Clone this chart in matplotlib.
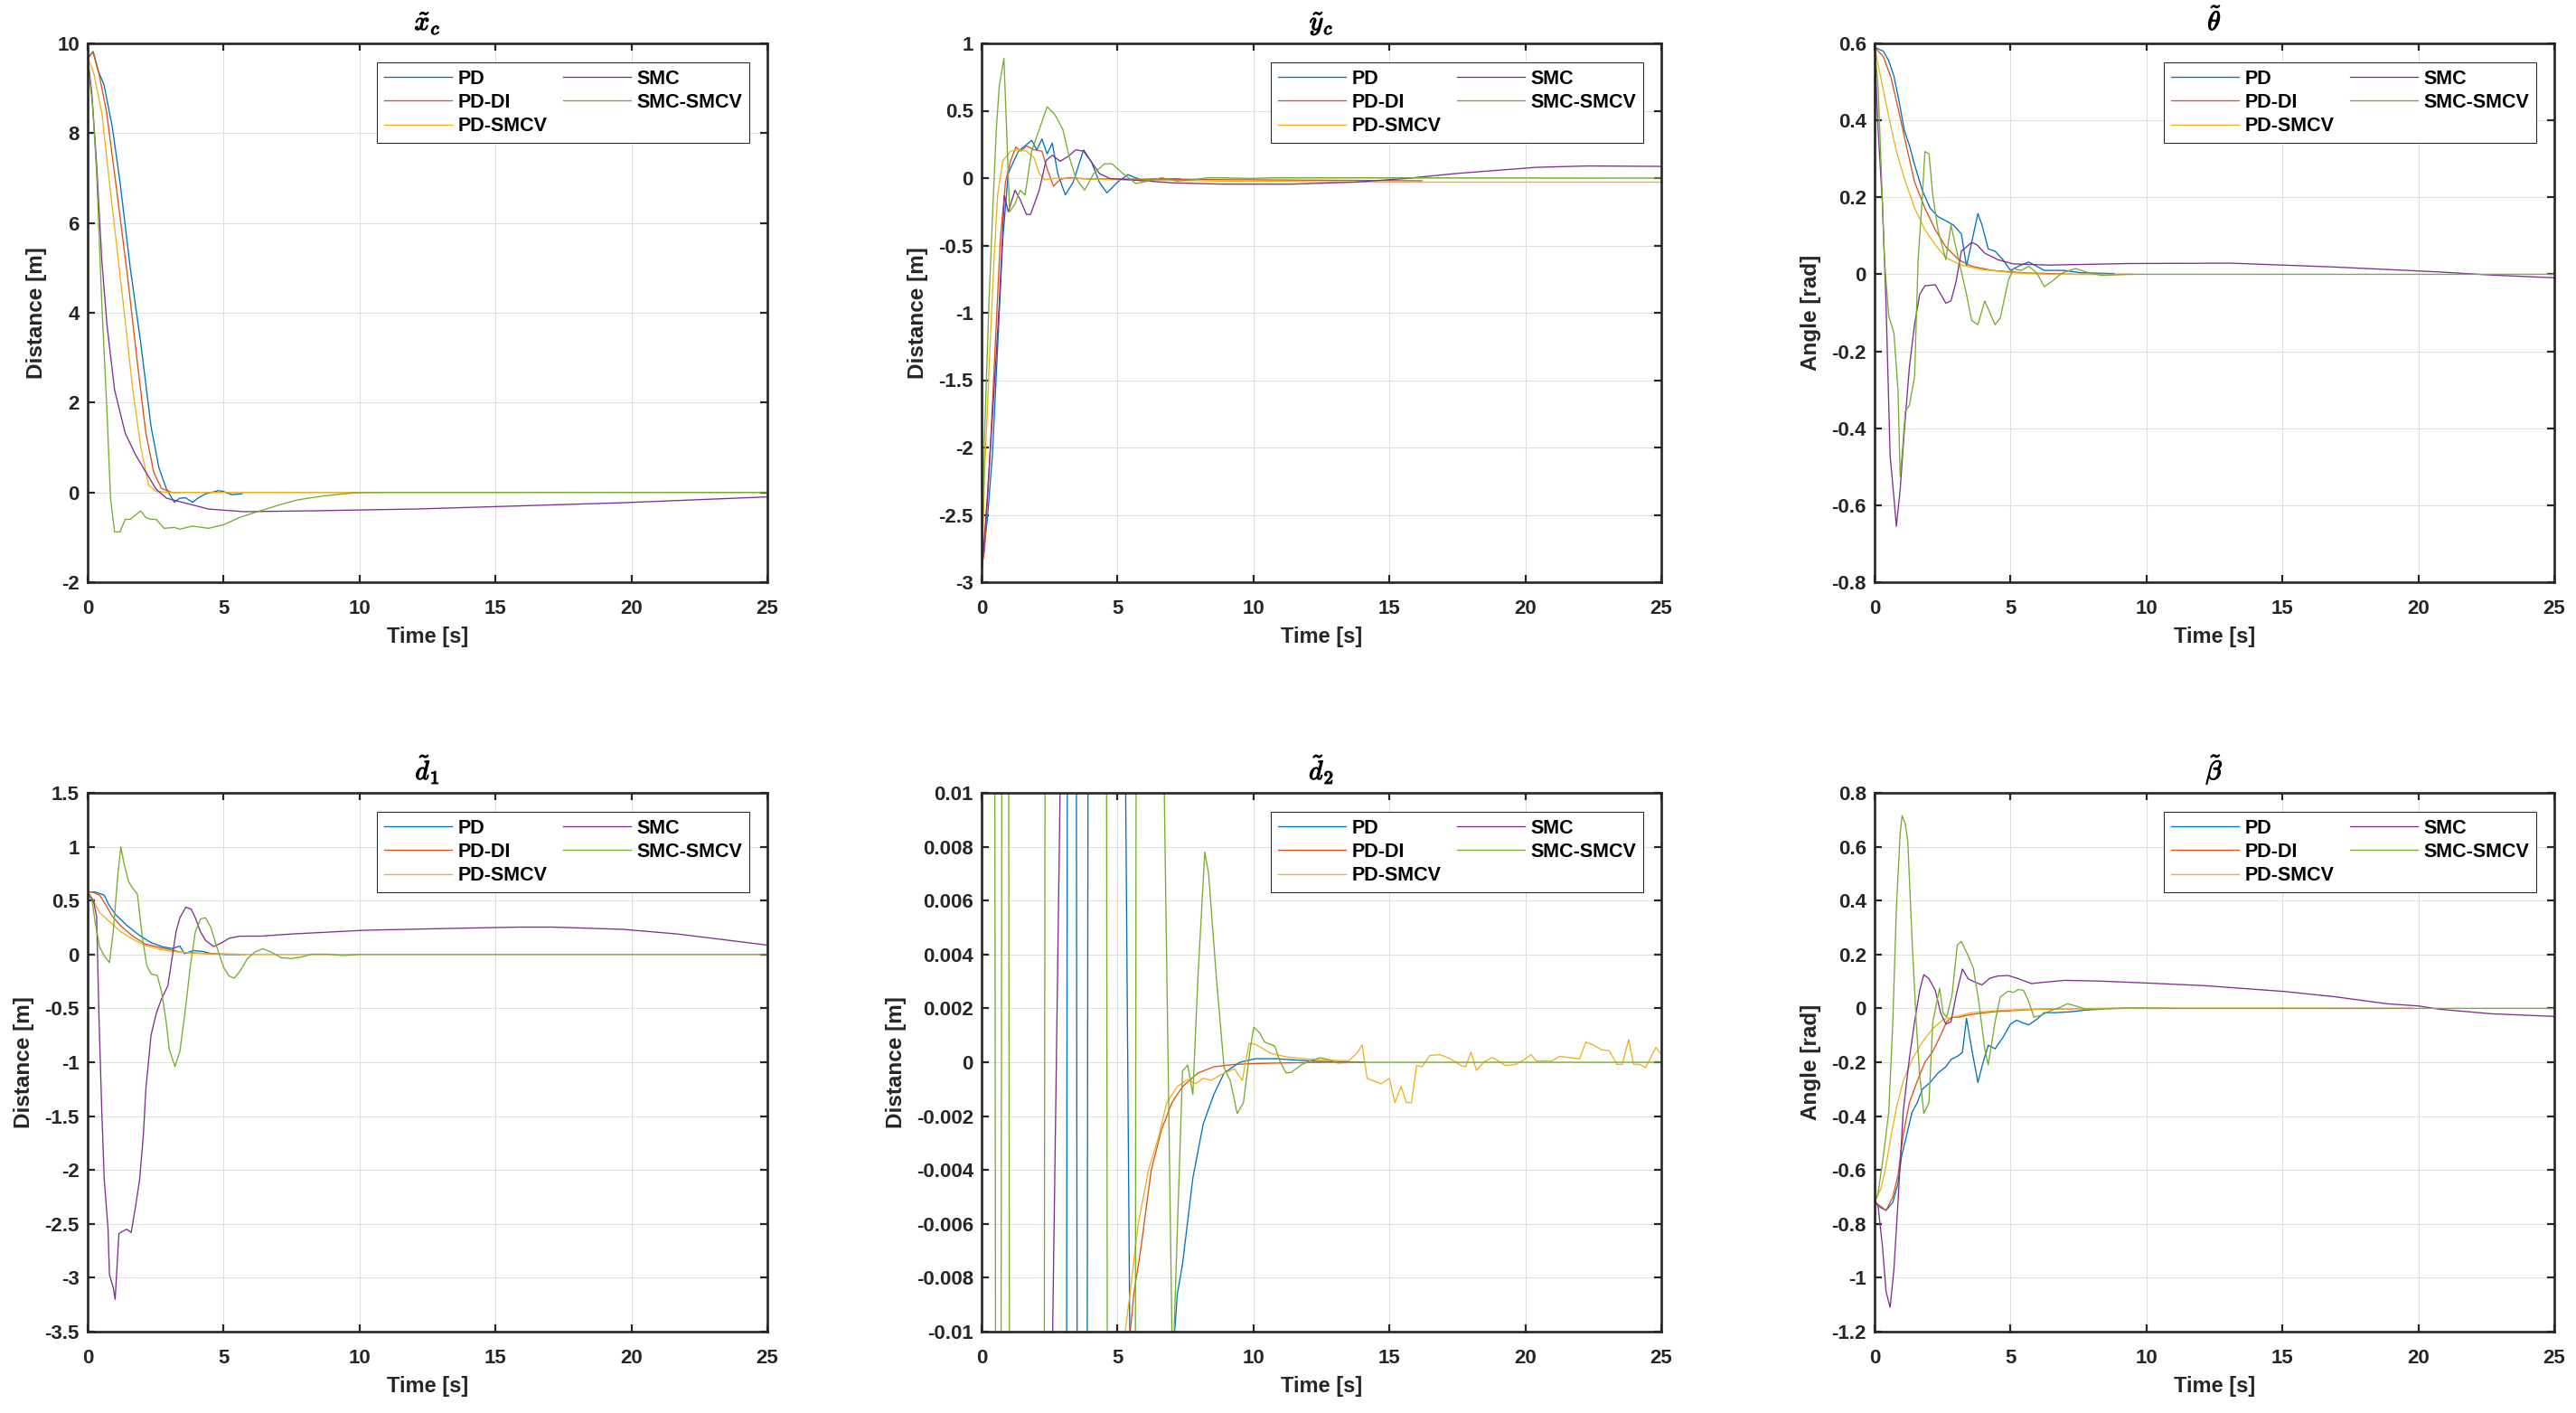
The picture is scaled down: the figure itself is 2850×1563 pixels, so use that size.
import numpy as np
import matplotlib.pyplot as plt
import matplotlib.patheffects as pe
from matplotlib.ticker import FuncFormatter

plt.rcParams['font.family'] = ['Liberation Sans', 'DejaVu Sans']
plt.rcParams['font.weight'] = 'bold'
plt.rcParams['mathtext.fontset'] = 'cm'

controllers = ['PD', 'PD-DI', 'PD-SMCV', 'SMC', 'SMC-SMCV']
colors = ['#0072BD', '#D95319', '#EDB120', '#7E2F8E', '#77AC30']
time_ticks = [0, 5, 10, 15, 20, 25]

# ---- x_c error [m], (time, value) pairs
xc_pd = [(0, 9.66), (0.2, 9.82), (0.4, 9.37), (0.6, 9.08), (0.9, 8.16), (1.19, 6.91), (1.57, 4.98),
         (1.95, 3.34), (2.33, 1.47), (2.62, 0.55), (2.9, 0.07), (3.19, -0.22), (3.38, -0.13),
         (3.6, -0.12), (3.86, -0.22), (4.05, -0.13), (4.34, -0.03), (4.82, 0.04), (5.0, 0.02),
         (5.3, -0.05), (5.68, -0.03)]
xc_pddi = [(0, 9.7), (0.2, 9.8), (0.42, 9.32), (0.7, 8.45), (1.09, 6.62), (1.47, 4.79), (1.85, 2.77),
           (2.14, 1.32), (2.43, 0.45), (2.71, 0.09), (3.1, 0.0), (3.4, 0.0)]
xc_pdsmcv = [(0, 9.7), (0.23, 9.32), (0.52, 8.45), (0.8, 6.91), (1.09, 5.37), (1.38, 3.83), (1.66, 2.28),
             (1.95, 1.03), (2.24, 0.16), (2.52, 0.02), (3.1, 0.0), (10.8, 0.0)]
xc_smc = [(0, 9.7), (0.15, 8.9), (0.33, 7.3), (0.52, 5.17), (0.71, 3.73), (0.99, 2.28), (1.38, 1.32),
          (1.76, 0.84), (2.14, 0.45), (2.52, 0.07), (2.9, -0.13), (3.48, -0.22), (4.44, -0.37),
          (5.77, -0.43), (8.26, -0.41), (12.08, -0.37), (15.9, -0.3), (19.7, -0.23), (25, -0.1)]
xc_smcsmcv = [(0, 9.6), (0.19, 8.55), (0.33, 7.1), (0.52, 4.2), (0.71, 1.8), (0.84, -0.13), (0.99, -0.88),
              (1.19, -0.88), (1.38, -0.6), (1.57, -0.6), (1.95, -0.41), (2.14, -0.56), (2.33, -0.6),
              (2.52, -0.6), (2.81, -0.8), (3.19, -0.78), (3.38, -0.82), (3.86, -0.75), (4.44, -0.8),
              (5.0, -0.72), (5.58, -0.56), (6.35, -0.41), (7.1, -0.27), (7.69, -0.17), (8.64, -0.08),
              (9.8, -0.01), (10.75, 0.0), (25, 0.0)]

# ---- y_c error [m]
yc_pd = [(0, -2.9), (0.21, -2.54), (0.4, -2.05), (0.59, -1.25), (0.78, -0.45), (0.98, 0.035), (1.17, 0.12),
         (1.36, 0.2), (1.6, 0.24), (1.84, 0.28), (2.03, 0.21), (2.22, 0.29), (2.41, 0.18), (2.6, 0.26),
         (2.8, 0.035), (3.08, -0.125), (3.37, -0.03), (3.75, 0.21), (4.04, 0.12), (4.33, -0.03),
         (4.61, -0.11), (5.0, -0.03), (5.38, 0.026), (5.86, -0.013), (6.43, -0.006), (7.3, -0.006)]
yc_pddi = [(0, -2.9), (0.11, -2.76), (0.31, -2.05), (0.5, -1.25), (0.69, -0.45), (0.88, -0.03), (1.07, 0.13),
           (1.26, 0.23), (1.45, 0.2), (1.65, 0.24), (1.93, 0.21), (2.22, 0.2), (2.41, 0.07), (2.64, -0.06),
           (2.89, -0.01), (3.18, 0.003), (3.94, -0.006), (16.2, -0.02)]
yc_pdsmcv = [(0, -3.0), (0.11, -2.2), (0.31, -1.25), (0.46, -0.6), (0.59, -0.125), (0.78, 0.13), (1.07, 0.2),
             (1.36, 0.21), (1.65, 0.2), (1.93, 0.15), (2.12, 0.035), (2.32, -0.013), (2.8, 0.0),
             (5.09, -0.013), (8.9, -0.022), (14.66, -0.03), (25, -0.03)]
yc_smc = [(0, -2.95), (0.21, -2.37), (0.46, -1.57), (0.65, -0.93), (0.84, -0.13), (0.98, -0.25), (1.23, -0.09),
          (1.42, -0.16), (1.65, -0.27), (1.8, -0.27), (2.12, -0.09), (2.37, 0.13), (2.6, 0.17), (2.89, 0.125),
          (3.18, 0.16), (3.46, 0.21), (3.75, 0.2), (4.04, 0.12), (4.33, 0.035), (4.71, -0.003), (5.47, -0.013),
          (7.0, -0.035), (8.9, -0.045), (11.4, -0.045), (13.7, -0.03), (15.6, -0.003), (17.5, 0.035),
          (20.4, 0.08), (22.3, 0.09), (25, 0.087)]
yc_smcsmcv = [(0, -3.0), (0.11, -1.9), (0.27, -0.93), (0.4, -0.29), (0.54, 0.36), (0.65, 0.68), (0.82, 0.89),
              (0.92, 0.36), (1.03, -0.25), (1.23, -0.19), (1.42, -0.09), (1.6, -0.125), (1.84, 0.2),
              (2.12, 0.36), (2.41, 0.53), (2.7, 0.47), (2.99, 0.36), (3.22, 0.16), (3.46, 0.003), (3.79, -0.09),
              (4.13, 0.035), (4.52, 0.106), (4.8, 0.106), (5.19, 0.035), (5.67, -0.04), (6.14, -0.022),
              (6.62, 0.003), (7.2, -0.022), (7.77, -0.013), (8.35, 0.003), (8.9, 0.003), (9.88, -0.003),
              (10.83, 0.003), (25, 0.0)]

# ---- theta error [rad]
th_pd = [(0, 0.59), (0.32, 0.58), (0.52, 0.555), (0.71, 0.515), (0.9, 0.45), (1.09, 0.375), (1.28, 0.335),
         (1.47, 0.285), (1.76, 0.217), (2.04, 0.172), (2.33, 0.15), (2.62, 0.139), (2.9, 0.128), (3.19, 0.105),
         (3.38, 0.021), (3.57, 0.083), (3.8, 0.158), (3.95, 0.128), (4.18, 0.066), (4.43, 0.06), (4.72, 0.038),
         (5.0, 0.01), (5.29, 0.021), (5.67, 0.032), (5.96, 0.021), (6.24, 0.01), (7.0, 0.01), (7.58, 0.004),
         (8.8, 0.002)]
th_pddi = [(0, 0.59), (0.32, 0.566), (0.61, 0.51), (0.9, 0.42), (1.18, 0.33), (1.47, 0.24), (1.85, 0.172),
           (2.23, 0.116), (2.62, 0.071), (3.09, 0.038), (3.57, 0.021), (4.34, 0.01), (5.48, 0.004),
           (7.39, 0.0), (9.5, 0.0)]
th_pdsmcv = [(0, 0.59), (0.23, 0.51), (0.52, 0.41), (0.8, 0.32), (1.09, 0.25), (1.47, 0.172), (1.85, 0.116),
             (2.23, 0.077), (2.62, 0.043), (3.19, 0.024), (3.95, 0.012), (5.1, 0.004), (6.44, 0.0), (9.3, 0.0)]
th_smc = [(0, 0.59), (0.13, 0.375), (0.29, 0.18), (0.42, -0.075), (0.57, -0.47), (0.71, -0.58), (0.8, -0.655),
          (0.94, -0.56), (1.09, -0.41), (1.28, -0.24), (1.47, -0.13), (1.66, -0.052), (1.85, -0.03),
          (2.23, -0.027), (2.62, -0.075), (2.81, -0.069), (3.0, -0.018), (3.19, 0.06), (3.57, 0.083),
          (3.76, 0.077), (4.05, 0.055), (4.53, 0.038), (5.1, 0.027), (6.44, 0.024), (9.3, 0.028),
          (13.1, 0.029), (16.9, 0.019), (20.8, 0.006), (22.7, -0.002), (25, -0.009)]
th_smcsmcv = [(0, 0.59), (0.13, 0.487), (0.25, 0.262), (0.36, 0.038), (0.52, -0.108), (0.71, -0.153),
              (0.86, -0.3), (0.94, -0.525), (1.01, -0.47), (1.13, -0.356), (1.28, -0.34), (1.47, -0.266),
              (1.6, 0.038), (1.76, 0.206), (1.85, 0.319), (2.0, 0.313), (2.14, 0.206), (2.33, 0.116),
              (2.62, 0.038), (2.81, 0.128), (3.09, 0.038), (3.38, -0.052), (3.57, -0.12), (3.8, -0.131),
              (4.05, -0.069), (4.43, -0.131), (4.62, -0.114), (4.91, -0.018), (5.1, 0.015), (5.39, 0.01),
              (5.67, 0.021), (5.96, 0.004), (6.24, -0.032), (6.53, -0.018), (6.91, 0.004), (7.39, 0.015),
              (7.87, 0.004), (8.35, -0.003), (9.3, 0.0), (25, 0.0)]

# ---- d1 error [m]
d1_pd = [(0, 0.58), (0.28, 0.58), (0.61, 0.55), (0.78, 0.46), (1.0, 0.377), (1.44, 0.27), (1.89, 0.18),
         (2.33, 0.11), (2.78, 0.07), (3.11, 0.056), (3.39, 0.078), (3.56, 0.008), (3.89, 0.036),
         (4.22, 0.028), (4.56, 0.008), (5.1, 0.0), (5.6, 0.0)]
d1_pddi = [(0, 0.58), (0.17, 0.58), (0.44, 0.55), (0.67, 0.46), (0.89, 0.36), (1.22, 0.265), (1.67, 0.168),
           (2.11, 0.098), (2.56, 0.07), (3.0, 0.047), (3.44, 0.02), (3.89, 0.014), (4.56, 0.006), (5.8, 0.0)]
d1_pdsmcv = [(0, 0.58), (0.17, 0.52), (0.44, 0.39), (0.78, 0.31), (1.22, 0.21), (1.67, 0.14), (2.11, 0.084),
             (2.67, 0.047), (3.22, 0.025), (3.89, 0.014), (4.56, 0.006), (6.0, 0.0), (10.0, 0.0)]
d1_smc = [(0, 0.58), (0.22, 0.49), (0.33, 0.35), (0.42, -0.62), (0.52, -1.46), (0.61, -2.09), (0.75, -2.55),
          (0.8, -2.97), (0.94, -3.09), (1.01, -3.2), (1.15, -2.59), (1.28, -2.57), (1.43, -2.55), (1.6, -2.58),
          (1.76, -2.34), (1.91, -2.09), (2.05, -1.67), (2.14, -1.25), (2.33, -0.75), (2.53, -0.54),
          (2.72, -0.41), (2.95, -0.29), (3.1, -0.04), (3.25, 0.21), (3.39, 0.34), (3.61, 0.44), (3.81, 0.42),
          (3.96, 0.34), (4.15, 0.21), (4.34, 0.13), (4.63, 0.074), (4.92, 0.107), (5.2, 0.15), (5.59, 0.17),
          (6.35, 0.17), (7.5, 0.19), (10.2, 0.225), (13.0, 0.24), (15.9, 0.254), (17.1, 0.254),
          (19.7, 0.233), (21.7, 0.19), (25, 0.087)]
d1_smcsmcv = [(0, 0.58), (0.17, 0.49), (0.28, 0.29), (0.44, 0.07), (0.61, -0.014), (0.8, -0.075), (0.94, 0.21),
              (1.11, 0.74), (1.22, 1.0), (1.33, 0.85), (1.5, 0.68), (1.61, 0.63), (1.83, 0.56), (2.0, 0.18),
              (2.17, -0.1), (2.33, -0.18), (2.56, -0.195), (2.72, -0.35), (2.89, -0.63), (3.0, -0.88),
              (3.21, -1.04), (3.39, -0.9), (3.58, -0.54), (3.77, -0.12), (3.96, 0.21), (4.15, 0.33),
              (4.34, 0.34), (4.53, 0.25), (4.78, 0.045), (5.0, -0.12), (5.2, -0.2), (5.39, -0.22),
              (5.59, -0.16), (5.87, -0.04), (6.16, 0.025), (6.45, 0.053), (6.73, 0.025), (7.12, -0.03),
              (7.5, -0.038), (7.88, -0.022), (8.26, 0.003), (8.84, 0.003), (9.41, -0.01), (9.98, 0.0),
              (25, 0.0)]

# ---- d2 error [m] (large swings run off the +-0.01 window)
d2_pd = [(0, -0.04), (3.09, -0.04), (3.19, 0.04), (3.45, 0.04), (3.55, -0.04), (3.85, -0.04), (3.95, 0.04),
         (5.2, 0.03), (5.3, 0.01), (5.45, -0.01), (5.6, -0.03), (6.6, -0.03), (7.0, -0.012), (7.1, -0.01),
         (7.2, -0.0086), (7.39, -0.0075), (7.77, -0.0043), (8.15, -0.0023), (8.54, -0.0012),
         (8.92, -0.0004), (9.5, 0.0), (10.07, 0.00013), (10.83, 0.00013), (11.6, 0.00008),
         (12.4, 0.00003), (14.1, 0.0)]
d2_pddi = [(0, -0.04), (5.0, -0.03), (5.35, -0.014), (5.47, -0.01), (5.6, -0.0086), (5.86, -0.0069),
           (6.24, -0.004), (6.62, -0.0025), (7.0, -0.0015), (7.39, -0.0009), (7.96, -0.0004),
           (8.54, -0.00017), (9.3, -0.00008), (10.07, -0.00005), (10.83, -0.00003), (12.75, 0.0), (14.0, 0.0)]
d2_pdsmcv = [(0, -0.04), (4.9, -0.03), (5.2, -0.013), (5.28, -0.01), (5.47, -0.0085), (5.76, -0.006),
             (6.14, -0.004), (6.53, -0.0027), (6.81, -0.0015), (7.2, -0.0009), (7.58, -0.00064),
             (7.87, -0.0008), (8.15, -0.0006), (8.44, -0.00067), (8.92, -0.0004), (9.3, -0.00025),
             (9.59, -0.00067), (9.84, 0.0007), (10.07, 0.00067), (10.64, 0.00033), (11.2, 0.0002),
             (11.97, 0.00012), (12.75, 0.00008), (13.5, 0.00005), (13.8, 0.00033), (14.0, 0.00064),
             (14.18, -0.0006), (14.57, -0.00075), (14.7, -0.0008), (15.0, -0.0006), (15.2, -0.0015),
             (15.43, -0.0009), (15.62, -0.0015), (15.81, -0.0015), (16.0, -0.00012), (16.2, -0.00017),
             (16.48, 0.00025), (16.86, 0.00028), (17.24, 0.00013), (17.63, -0.00012), (17.8, -0.00017),
             (18.0, 0.00037), (18.2, -0.0003), (18.5, 0.00003), (18.78, 0.00017), (18.97, 0.00008),
             (19.26, -0.00012), (19.64, -0.00008), (19.93, 0.00008), (20.21, 0.00028), (20.4, 0.00005),
             (20.98, 0.00005), (21.26, 0.00022), (21.65, 0.00017), (22.0, 0.00013), (22.22, 0.00075),
             (22.5, 0.00064), (22.8, 0.00047), (23.09, 0.00042), (23.37, -0.00008), (23.56, -0.00008),
             (23.8, 0.00084), (23.98, -0.00008), (24.2, -0.00008), (24.42, -0.0002), (24.8, 0.00055),
             (25, 0.0003)]
d2_smc = [(0, -0.04), (2.4, -0.03), (2.6, -0.011), (2.9, 0.011), (3.2, 0.03), (25, 0.04)]
d2_smcsmcv = [(0, 0.04), (0.45, 0.04), (0.55, -0.04), (0.68, -0.04), (0.78, 0.04), (0.96, 0.04), (1.06, -0.04),
              (2.27, -0.04), (2.37, 0.04), (4.56, 0.04), (4.66, -0.04), (5.62, -0.04), (5.72, 0.04),
              (6.6, 0.03), (6.72, 0.01), (7.0, -0.01), (7.03, -0.012), (7.08, -0.01), (7.39, -0.00033),
              (7.58, -0.0001), (7.77, -0.0012), (7.96, 0.0032), (8.21, 0.0078), (8.35, 0.007), (8.63, 0.0032),
              (8.92, -0.0002), (9.15, -0.0007), (9.4, -0.0019), (9.63, -0.0015), (9.88, 0.0005),
              (10.01, 0.0013), (10.22, 0.0011), (10.41, 0.00075), (10.78, 0.0006), (10.99, 0.0),
              (11.2, -0.0004), (11.4, -0.00037), (11.75, -0.0001), (12.08, 0.00005), (12.46, 0.00017),
              (12.75, 0.0001), (13.1, -0.00003), (13.9, 0.0), (25, 0.0)]

# ---- beta error [rad]
be_pd = [(0, -0.72), (0.23, -0.74), (0.42, -0.75), (0.67, -0.72), (0.86, -0.65), (0.99, -0.55), (1.18, -0.47),
         (1.38, -0.385), (1.57, -0.35), (1.76, -0.3), (2.04, -0.275), (2.33, -0.24), (2.62, -0.217),
         (2.81, -0.19), (3.09, -0.175), (3.23, -0.163), (3.38, -0.037), (3.57, -0.15), (3.8, -0.275),
         (3.99, -0.2), (4.18, -0.137), (4.43, -0.15), (4.72, -0.108), (5.0, -0.058), (5.23, -0.044),
         (5.48, -0.055), (5.67, -0.061), (5.96, -0.041), (6.24, -0.016), (6.63, -0.016), (7.2, -0.013),
         (7.77, -0.006), (8.4, -0.003)]
be_pddi = [(0, -0.72), (0.23, -0.735), (0.42, -0.75), (0.67, -0.7), (0.86, -0.62), (1.05, -0.47),
           (1.28, -0.35), (1.57, -0.27), (1.85, -0.2), (2.14, -0.16), (2.43, -0.1), (2.65, -0.05),
           (2.85, -0.033), (3.09, -0.033), (3.38, -0.026), (3.76, -0.02), (4.34, -0.013), (5.1, -0.008),
           (6.05, -0.003), (7.39, -0.001), (9.3, 0.0), (19.8, 0.0)]
be_pdsmcv = [(0, -0.72), (0.23, -0.67), (0.42, -0.585), (0.61, -0.47), (0.8, -0.37), (1.05, -0.27),
             (1.38, -0.19), (1.76, -0.125), (2.14, -0.075), (2.52, -0.041), (3.0, -0.03), (3.57, -0.016),
             (4.53, -0.008), (5.48, -0.004), (6.63, -0.001), (8.35, 0.0), (16.65, 0.0)]
be_smc = [(0, -0.71), (0.13, -0.735), (0.29, -0.885), (0.42, -1.05), (0.57, -1.11), (0.71, -0.97),
          (0.86, -0.72), (1.05, -0.385), (1.28, -0.185), (1.47, -0.05), (1.66, 0.067), (1.81, 0.125),
          (2.0, 0.11), (2.23, 0.067), (2.43, -0.017), (2.62, -0.058), (2.81, -0.05), (3.0, 0.05),
          (3.23, 0.146), (3.44, 0.11), (3.67, 0.098), (3.95, 0.087), (4.24, 0.112), (4.53, 0.12),
          (4.91, 0.122), (5.29, 0.11), (5.77, 0.092), (6.24, 0.097), (7.0, 0.104), (8.35, 0.101),
          (10.26, 0.093), (12.17, 0.084), (15.03, 0.063), (16.94, 0.043), (18.85, 0.017), (20.0, 0.009),
          (20.76, -0.003), (22.67, -0.02), (25, -0.03)]
be_smcsmcv = [(0, -0.72), (0.13, -0.685), (0.32, -0.55), (0.52, -0.385), (0.67, -0.05), (0.8, 0.37),
              (0.94, 0.65), (1.01, 0.715), (1.13, 0.685), (1.22, 0.62), (1.38, 0.25), (1.53, -0.05),
              (1.66, -0.25), (1.81, -0.39), (2.0, -0.35), (2.14, -0.05), (2.39, 0.075), (2.52, -0.017),
              (2.65, -0.033), (2.85, 0.05), (3.04, 0.235), (3.19, 0.248), (3.42, 0.2), (3.63, 0.15),
              (3.82, 0.033), (4.05, -0.15), (4.18, -0.21), (4.43, -0.05), (4.62, 0.042), (4.91, 0.064),
              (5.1, 0.059), (5.29, 0.07), (5.48, 0.067), (5.67, 0.025), (5.86, -0.033), (6.15, -0.025),
              (6.44, -0.01), (6.82, 0.004), (7.1, 0.017), (7.39, 0.009), (7.77, -0.003), (8.35, -0.003),
              (9.3, 0.002), (11.2, 0.0), (25, 0.0)]

xc_ticks = [-2, 0, 2, 4, 6, 8, 10]
yc_ticks = [-3, -2.5, -2, -1.5, -1, -0.5, 0, 0.5, 1]
th_ticks = [-0.8, -0.6, -0.4, -0.2, 0, 0.2, 0.4, 0.6]
d1_ticks = [-3.5, -3, -2.5, -2, -1.5, -1, -0.5, 0, 0.5, 1, 1.5]
d2_ticks = [-0.01, -0.008, -0.006, -0.004, -0.002, 0, 0.002, 0.004, 0.006, 0.008, 0.01]
be_ticks = [-1.2, -1, -0.8, -0.6, -0.4, -0.2, 0, 0.2, 0.4, 0.6, 0.8]

panels = [
    (r'$\tilde{x}_c$', 'Distance [m]', [xc_pd, xc_pddi, xc_pdsmcv, xc_smc, xc_smcsmcv], xc_ticks),
    (r'$\tilde{y}_c$', 'Distance [m]', [yc_pd, yc_pddi, yc_pdsmcv, yc_smc, yc_smcsmcv], yc_ticks),
    (r'$\tilde{\theta}$', 'Angle [rad]', [th_pd, th_pddi, th_pdsmcv, th_smc, th_smcsmcv], th_ticks),
    (r'$\tilde{d}_1$', 'Distance [m]', [d1_pd, d1_pddi, d1_pdsmcv, d1_smc, d1_smcsmcv], d1_ticks),
    (r'$\tilde{d}_2$', 'Distance [m]', [d2_pd, d2_pddi, d2_pdsmcv, d2_smc, d2_smcsmcv], d2_ticks),
    (r'$\tilde{\beta}$', 'Angle [rad]', [be_pd, be_pddi, be_pdsmcv, be_smc, be_smcsmcv], be_ticks),
]


def tick_fmt(v, pos):
    return '%g' % (round(v, 6) + 0.0)


W, H = 2850, 1563
fig = plt.figure(figsize=(W / 100, H / 100), dpi=100)
lefts = [97, 1086, 2074]
tops = [48, 877]
aw, ah = 752, 596
dark = '#262626'

for i, (title, ylabel, series, yticks) in enumerate(panels):
    r, c = divmod(i, 3)
    ax = fig.add_axes([lefts[c] / W, 1 - (tops[r] + ah) / H, aw / W, ah / H])
    for data, name, col in zip(series, controllers, colors):
        t, v = zip(*data)
        ax.plot(t, v, color=col, lw=0.95, label=name)
    ax.set_xlim(0, 25)
    ax.set_ylim(yticks[0], yticks[-1])
    ax.set_xticks(time_ticks)
    ax.set_yticks(yticks)
    ax.xaxis.set_major_formatter(FuncFormatter(tick_fmt))
    ax.yaxis.set_major_formatter(FuncFormatter(tick_fmt))
    ax.grid(True, color='#dedede', lw=0.75)
    ax.set_axisbelow(True)
    for sp in ax.spines.values():
        sp.set_linewidth(1.9)
        sp.set_color(dark)
    ax.tick_params(direction='in', top=True, right=True, length=6, width=1.6,
                   colors=dark, labelsize=16)
    ax.tick_params(axis='x', pad=13.5)
    ax.tick_params(axis='y', pad=6.5)
    ax.set_xlabel('Time [s]', fontsize=17, fontweight='bold', color=dark, labelpad=7)
    ax.set_ylabel(ylabel, fontsize=17.5, fontweight='bold', color=dark, labelpad=8)
    ax.text(0.5, 1 + 15 / ah, title, transform=ax.transAxes, ha='center', va='baseline',
            fontsize=21, color='black',
            path_effects=[pe.withStroke(linewidth=0.9, foreground='black')])
    leg = ax.legend(ncol=2, loc='upper right', bbox_to_anchor=(1 - 20 / aw, 1 - 21 / ah),
                    borderaxespad=0, prop={'weight': 'bold', 'size': 15.5},
                    handlelength=3.5, handletextpad=0.3, columnspacing=0.8,
                    borderpad=0.35, labelspacing=0.25, fancybox=False, framealpha=1)
    leg.get_frame().set_edgecolor(dark)
    leg.get_frame().set_linewidth(0.75)

fig.savefig('out.png', dpi=100)
